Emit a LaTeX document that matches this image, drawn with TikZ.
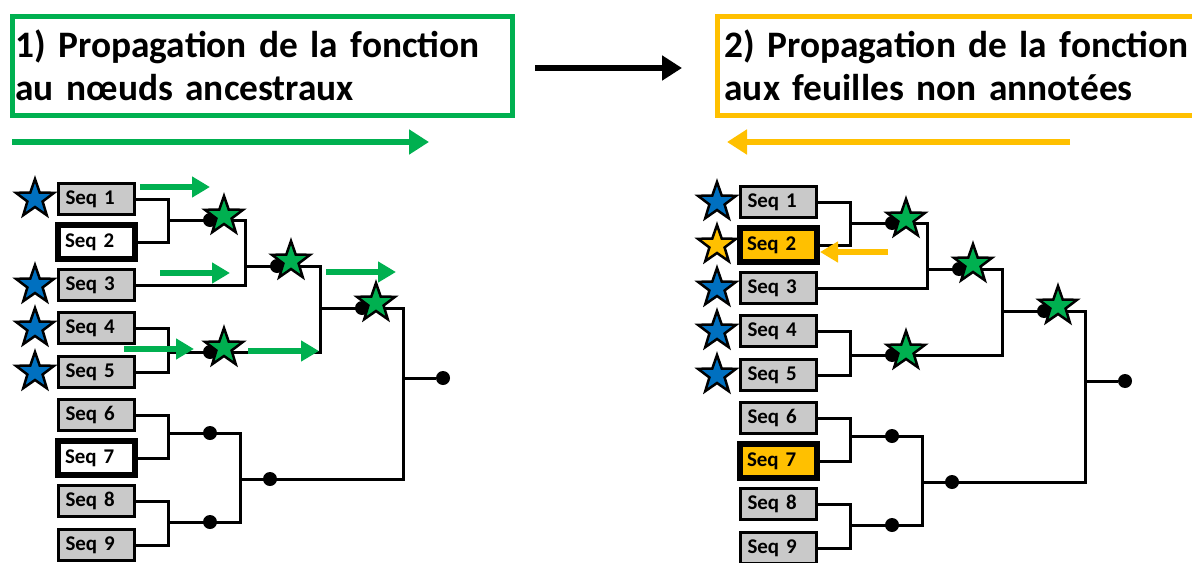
\documentclass[tikz,border=0pt]{standalone}
\usepackage{fontspec}
\setmainfont{Carlito}
\usepackage{xcolor}
\usepackage{tikz}
\usetikzlibrary{shapes.geometric,arrows.meta}

\definecolor{vert}{HTML}{00B050}
\definecolor{jaune}{HTML}{FFC000}
\definecolor{bleu}{HTML}{0070C0}
\definecolor{gris}{HTML}{C9C9C9}

\tikzset{
  titre/.style={line width=5bp, outer sep=0pt, text width=494bp, align=left, inner xsep=3bp,
    minimum height=99bp, anchor=west, font=\bfseries\fontsize{37.5}{43}\selectfont},
  seq/.style={draw, fill=gris, line width=3bp, text width=62bp, align=left, inner xsep=7bp,
    inner ysep=0pt, minimum height=31bp, font=\bfseries\fontsize{21}{21}\selectfont},
  seqvide/.style={seq, fill=white, line width=6bp, text width=63bp, minimum height=34bp},
  branche/.style={line width=3bp},
  point/.style={circle, fill=black, inner sep=0pt, minimum size=14bp},
  etoile/.style={star, star points=5, star point ratio=2.5, draw, line width=2.5bp,
    inner sep=0pt, minimum size=40bp},
  fleche/.style={line width=5.5bp, -{Triangle[length=18bp,width=20bp]}},
  grandefleche/.style={line width=6bp, -{Triangle[length=20bp,width=24bp]}}
}

% arbre des sequences, #1 = etoiles des feuilles
\newcommand{\arbre}[1]{%
  \foreach \i/\y/\c in {#1}
    \node (B\i) at (35bp,-\y bp)[etoile,fill=\c] {};
  \foreach \i/\y/\s in {1/199/seq,2/242/seqvide,3/285/seq,4/328/seq,5/372/seq,6/415/seq,7/458/seqvide,8/501/seq,9/545/seq}
    \node (S\i) at (96.5bp,-\y bp)[\s] {Seq \i};
  \coordinate (J12) at (168bp,-220bp);
  \coordinate (J123) at (245bp,-266bp);
  \coordinate (J45) at (168bp,-352bp);
  \coordinate (J15) at (320bp,-308bp);
  \coordinate (J67) at (168bp,-433bp);
  \coordinate (J89) at (168bp,-522bp);
  \coordinate (J69) at (240bp,-479bp);
  \coordinate (J19) at (403bp,-378bp);
  \draw [branche] (S1.east) -| (J12) |- (S2.east);
  \draw [branche] (S4.east) -| (J45) |- (S5.east);
  \draw [branche] (S6.east) -| (J67) |- (S7.east);
  \draw [branche] (S8.east) -| (J89) |- (S9.east);
  \draw [branche] (J12) -| (J123) |- (S3.east);
  \draw [branche] (J123) -| (J15) |- (J45);
  \draw [branche] (J67) -| (J69) |- (J89);
  \draw [branche] (J15) -| (J19) |- (J69);
  \foreach \n/\x/\y in {12/210/220,123/277/266,45/210/352,15/362/308,67/210/433,89/210/522,69/270/479}
    \node (P\n) at (\x bp,-\y bp)[point] {};
  \node (R) at (443bp,-378bp)[point] {};
  \draw [branche] (J19) -- (R);
  \foreach \n/\x/\y in {12/224/216,123/291/261,45/224/348,15/376/303}
    \node (V\n) at (\x bp,-\y bp)[etoile,fill=vert] {};
}

\begin{document}
\begin{tikzpicture}
    \useasboundingbox (0bp,0bp) rectangle (1192bp,-563bp);
    \clip (0bp,0bp) rectangle (1192bp,-563bp);

    % titres
    \node (T1) at (12.5bp,-65.5bp)[titre,draw=vert] {1) Propagation de la fonction\\au nœuds ancestraux};
    \node (T2) at (717.5bp,-65.5bp)[titre,draw=jaune,inner xsep=7bp] {2) Propagation de la fonction\\aux feuilles non annotées};
    \coordinate (N1) at (535bp,-68bp);
    \coordinate (N2) at (682bp,-68bp);
    \draw [grandefleche,black] (N1) to (N2);
    \coordinate (G1) at (12bp,-142bp);
    \coordinate (G2) at (429bp,-142bp);
    \draw [grandefleche,vert] (G1) to (G2);
    \coordinate (O1) at (1070bp,-142bp);
    \coordinate (O2) at (727bp,-142bp);
    \draw [grandefleche,jaune] (O1) to (O2);

    % 1) vers les noeuds ancestraux
    \begin{scope}[name prefix=L-]
      \arbre{1/199/bleu,3/285/bleu,4/328/bleu,5/372/bleu}
      \foreach \n/\xa/\xb/\y in {a/140/210/187,b/160/230/273,c/124/194/349,d/248/319/351,e/326/396/272} {
        \coordinate (F\n1) at (\xa bp,-\y bp);
        \coordinate (F\n2) at (\xb bp,-\y bp);
        \draw [fleche,vert] (F\n1) to (F\n2);
      }
    \end{scope}

    % 2) vers les feuilles
    \begin{scope}[name prefix=R-, shift={(682bp,-3bp)}]
      \tikzset{seqvide/.append style={fill=jaune}}
      \arbre{1/199/bleu,2/242/jaune,3/285/bleu,4/328/bleu,5/372/bleu}
    \end{scope}
    \coordinate (Y1) at (888bp,-252bp);
    \coordinate (Y2) at (820bp,-252bp);
    \draw [fleche,jaune] (Y1) to (Y2);
\end{tikzpicture}
\end{document}
